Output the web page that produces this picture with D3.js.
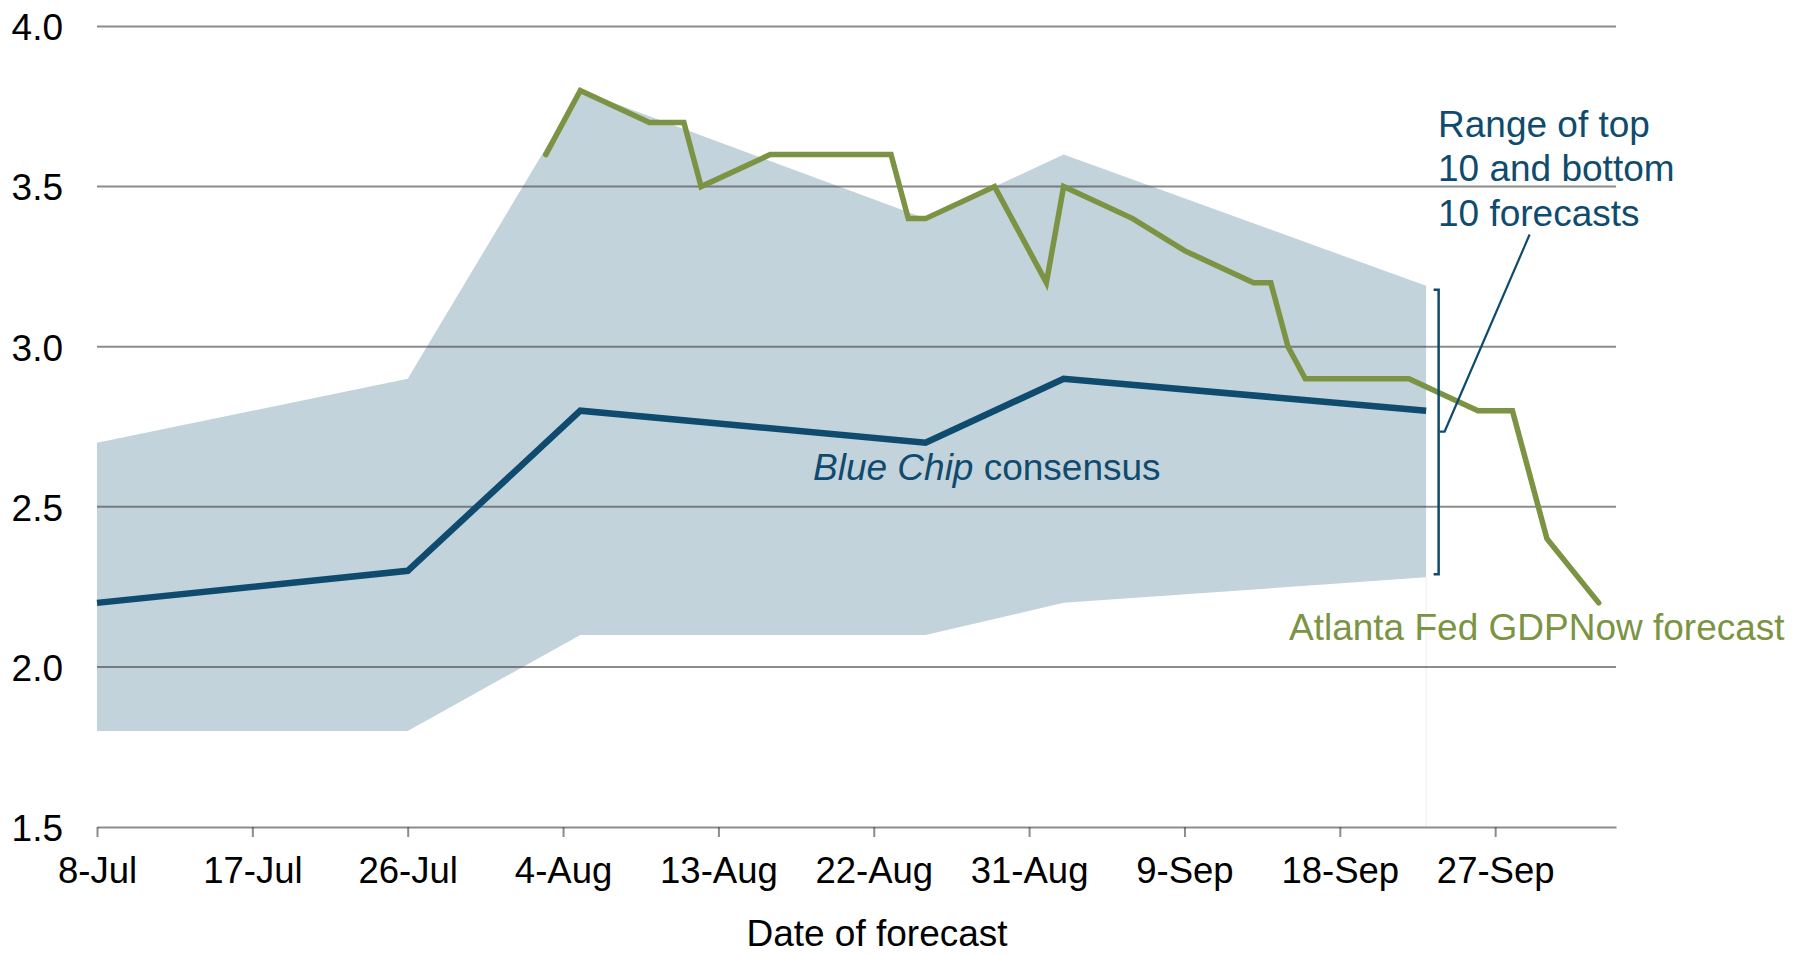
<!DOCTYPE html>
<html><head><meta charset="utf-8">
<script src="https://cdn.jsdelivr.net/npm/d3@7"></script>
<style>
html,body{margin:0;padding:0;background:#fff;}
svg{display:block;font-family:"Liberation Sans",Arial,Helvetica,sans-serif;}
</style>
</head><body>
<svg id="chart" width="1793" height="956"></svg>
<script>
// ---------- data ----------
const YEAR = 2016;
const xTickLabels = ["8-Jul","17-Jul","26-Jul","4-Aug","13-Aug","22-Aug","31-Aug","9-Sep","18-Sep","27-Sep"];
const xDomainLabels = ["8-Jul","4-Oct"];
const yTicks = [1.5, 2.0, 2.5, 3.0, 3.5, 4.0];

const blueChipDates = ["8-Jul","26-Jul","5-Aug","25-Aug","2-Sep","23-Sep"];
const blueChipConsensus = [2.2, 2.3, 2.8, 2.7, 2.9, 2.8];
const rangeTop10 = [2.7, 2.9, 3.8, 3.4, 3.6, 3.19];
const rangeBottom10 = [1.8, 1.8, 2.1, 2.1, 2.2, 2.28];

const gdpNowDates = ["3-Aug","5-Aug","9-Aug","11-Aug","12-Aug","16-Aug","23-Aug","24-Aug","25-Aug","29-Aug",
  "1-Sep","2-Sep","6-Sep","9-Sep","13-Sep","14-Sep","15-Sep","16-Sep","22-Sep","26-Sep","28-Sep","30-Sep","3-Oct"];
const gdpNowValues = [3.6, 3.8, 3.7, 3.7, 3.5, 3.6, 3.6, 3.4, 3.4, 3.5,
  3.2, 3.5, 3.4, 3.3, 3.2, 3.2, 3.0, 2.9, 2.9, 2.8, 2.8, 2.4, 2.2];

const rangeLabel = ["Range of top", "10 and bottom", "10 forecasts"];
const consensusLabelItalic = "Blue Chip";
const consensusLabelRest = " consensus";
const gdpNowLabel = "Atlanta Fed GDPNow forecast";
const xTitle = "Date of forecast";

// ---------- setup ----------
const parse = d3.timeParse("%d-%b-%Y");
const pd = s => parse(s + "-" + YEAR);
const fmt = d3.timeFormat("%-d-%b");

const COL_BAND = "#c3d3db";
const COL_BLUE = "#0f4b6e";
const COL_GREEN = "#7b9343";
const COL_GRID = "rgba(70,70,70,0.62)";

const svg = d3.select("#chart");
const x = d3.scaleTime().domain(xDomainLabels.map(pd)).range([97, 1616]);
const y = d3.scaleLinear().domain([1.5, 4.0]).range([827, 26.5]);

const band = blueChipDates.map((d, i) => ({date: pd(d), top: rangeTop10[i], bot: rangeBottom10[i], c: blueChipConsensus[i]}));
const gdp = gdpNowDates.map((d, i) => ({date: pd(d), v: gdpNowValues[i]}));

// band
svg.append("path").datum(band)
  .attr("fill", COL_BAND)
  .attr("d", d3.area().x(d => x(d.date)).y0(d => y(d.bot)).y1(d => y(d.top)));

// faint vertical edge continuing below band
const last = band[band.length - 1];
svg.append("line")
  .attr("x1", x(last.date)).attr("x2", x(last.date))
  .attr("y1", y(last.bot)).attr("y2", y(1.5))
  .attr("stroke", "#f1f4f6").attr("stroke-width", 1.5);

// gridlines
svg.append("g").selectAll("line").data(yTicks.filter(v => v > 1.5)).join("line")
  .attr("x1", x.range()[0]).attr("x2", x.range()[1])
  .attr("y1", d => y(d)).attr("y2", d => y(d))
  .attr("stroke", COL_GRID).attr("stroke-width", 2);

// x axis
const xAxis = svg.append("g").attr("transform", `translate(0,${y(1.5)})`)
  .call(d3.axisBottom(x).tickValues(xTickLabels.map(pd)).tickFormat(fmt).tickSize(10).tickSizeOuter(0).tickPadding(20));
xAxis.select(".domain").attr("stroke", COL_GRID).attr("stroke-width", 2);
xAxis.selectAll(".tick line").attr("stroke", COL_GRID).attr("stroke-width", 2);
xAxis.selectAll(".tick text").attr("font-size", 36.5).attr("fill", "#000")
  .attr("font-family", '"Liberation Sans",Arial,sans-serif').attr("dy", "0.72em");

// y axis
const yAxis = svg.append("g").attr("transform", `translate(${x.range()[0]},0)`)
  .call(d3.axisLeft(y).tickValues(yTicks).tickFormat(d3.format(".1f")).tickSize(0).tickPadding(34));
yAxis.select(".domain").remove();
yAxis.selectAll(".tick text").attr("font-size", 37).attr("fill", "#000")
  .attr("font-family", '"Liberation Sans",Arial,sans-serif').attr("dy", "0.36em");

// consensus line
svg.append("path").datum(band)
  .attr("fill", "none").attr("stroke", COL_BLUE).attr("stroke-width", 6.5)
  .attr("stroke-linejoin", "miter").attr("stroke-linecap", "butt")
  .attr("d", d3.line().x(d => x(d.date)).y(d => y(d.c)));

// GDPNow line
svg.append("path").datum(gdp)
  .attr("fill", "none").attr("stroke", COL_GREEN).attr("stroke-width", 5.5)
  .attr("stroke-linejoin", "miter").attr("stroke-linecap", "round")
  .attr("d", d3.line().x(d => x(d.date)).y(d => y(d.v)));

// bracket
const bx = x(last.date) + 12.5;
const bTop = y(last.top) + 4, bBot = y(last.bot) - 3;
svg.append("path")
  .attr("fill", "none").attr("stroke", COL_BLUE).attr("stroke-width", 2.5)
  .attr("d", `M${bx - 5},${bTop} L${bx},${bTop} L${bx},${bBot} L${bx - 5},${bBot}`);

// pointer
const pMid = y((last.top + last.bot) / 2);
svg.append("path")
  .attr("fill", "none").attr("stroke", COL_BLUE).attr("stroke-width", 2.2)
  .attr("d", `M${bx + 1},${pMid} L${bx + 6},${pMid} L${bx + 91},${pMid - 197}`);

// labels
const lab = svg.append("text").attr("x", 813).attr("y", 480).attr("font-size", 37).attr("fill", COL_BLUE);
lab.append("tspan").attr("font-style", "italic").text(consensusLabelItalic);
lab.append("tspan").text(consensusLabelRest);

svg.append("g").selectAll("text").data(rangeLabel).join("text")
  .attr("x", 1438).attr("y", (d, i) => 136.5 + i * 44.5)
  .attr("font-size", 37).attr("fill", COL_BLUE).text(d => d);

svg.append("text").attr("x", 877).attr("y", 946).attr("text-anchor", "middle")
  .attr("font-size", 37).attr("fill", "#000").text(xTitle);

svg.append("text").attr("x", 1289).attr("y", 639.5).attr("font-size", 37)
  .attr("fill", COL_GREEN).text(gdpNowLabel);
</script>
</body></html>
